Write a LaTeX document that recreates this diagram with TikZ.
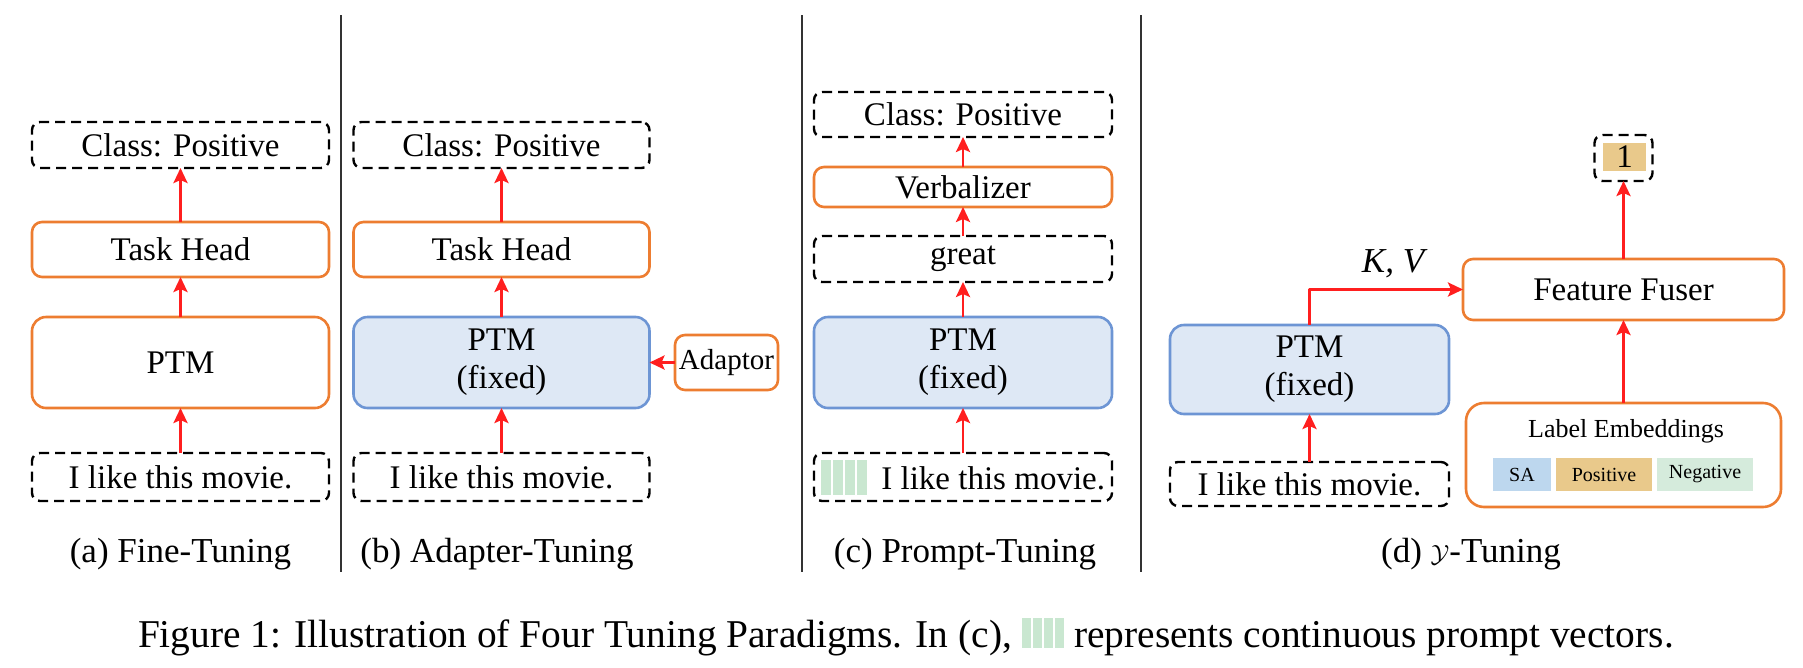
\documentclass[tikz,border=0pt]{standalone}
\usepackage{fontspec}
\setmainfont{Liberation Serif}
\usetikzlibrary{arrows.meta}
\definecolor{boxorange}{HTML}{ED7D31}
\definecolor{boxblue}{HTML}{6D95D4}
\definecolor{fillblue}{HTML}{DEE8F5}
\definecolor{arrred}{HTML}{FF1F1F}
\definecolor{promptgreen}{HTML}{C9E7D0}
\definecolor{cellsa}{HTML}{BDD7EE}
\definecolor{cellpos}{HTML}{E9C98B}
\definecolor{cellneg}{HTML}{D5EBDC}
\definecolor{sepgray}{HTML}{333333}
\newcommand{\myBody}{\fontsize{33}{39}\selectfont}
\newcommand{\myCapt}{\fontsize{35}{40}\selectfont}
\newcommand{\myFig}{\fontsize{39.4}{44}\selectfont}
\newcommand{\myCells}[3]{%
  \textcolor{promptgreen}{\rule[-#3]{#1}{#2}}\hspace{1.5pt}%
  \textcolor{promptgreen}{\rule[-#3]{#1}{#2}}\hspace{1.5pt}%
  \textcolor{promptgreen}{\rule[-#3]{#1}{#2}}\hspace{1.5pt}%
  \textcolor{promptgreen}{\rule[-#3]{#1}{#2}}}
\begin{document}
\begin{tikzpicture}[x=1pt,y=-1pt,line join=round,
  every node/.style={inner sep=0pt,outer sep=0pt},
  dbox/.style={draw=black,line width=2.4pt,dash pattern=on 10pt off 6pt,rounded corners=8pt,font=\myBody},
  obox/.style={draw=boxorange,line width=2.6pt,rounded corners=10pt,fill=white,font=\myBody},
  bbox/.style={draw=boxblue,fill=fillblue,line width=2.6pt,rounded corners=14pt,font=\myBody,align=center},
  arr/.style={draw=arrred,line width=2.8pt,-{Stealth[length=15pt,width=14pt,inset=3pt]}},
  capt/.style={font=\myCapt,anchor=base},
  sepline/.style={draw=sepgray,line width=2.5pt},
  cell/.style={minimum height=33pt,font=\fontsize{20}{24}\selectfont}
]
\useasboundingbox (0,0) rectangle (1803,667);

% separators
\coordinate (s1t) at (341,15);  \coordinate (s1b) at (341,572);
\coordinate (s2t) at (802,15);  \coordinate (s2b) at (802,572);
\coordinate (s3t) at (1141,15); \coordinate (s3b) at (1141,572);
\draw[sepline] (s1t) -- (s1b);
\draw[sepline] (s2t) -- (s2b);
\draw[sepline] (s3t) -- (s3b);

% (a) Fine-Tuning
\node[dbox,minimum width=297pt,minimum height=46pt] (ca) at (180.5,145) {Class: Positive};
\node[obox,minimum width=297pt,minimum height=55pt] (ta) at (180.5,249.5) {Task Head};
\node[obox,minimum width=297pt,minimum height=91pt,rounded corners=14pt] (pa) at (180.5,362.5) {PTM};
\node[dbox,minimum width=297pt,minimum height=48pt] (ia) at (180.5,477) {I like this movie.};
\draw[arr] (ia) -- (pa);
\draw[arr] (pa) -- (ta);
\draw[arr] (ta) -- (ca);
\node[capt] (capa) at (180.5,562) {(a) Fine-Tuning};

% (b) Adapter-Tuning
\node[dbox,minimum width=296pt,minimum height=46pt] (cb) at (501.5,145) {Class: Positive};
\node[obox,minimum width=296pt,minimum height=55pt] (tb) at (501.5,249.5) {Task Head};
\node[bbox,minimum width=296pt,minimum height=91pt] (pb) at (501.5,362.5) {PTM\\[-1pt](fixed)};
\node[dbox,minimum width=296pt,minimum height=48pt] (ib) at (501.5,477) {I like this movie.};
\node[obox,minimum width=103pt,minimum height=55pt,font=\fontsize{29}{34}\selectfont] (ad) at (726.5,362.5) {Adaptor};
\draw[arr] (ib) -- (pb);
\draw[arr] (pb) -- (tb);
\draw[arr] (tb) -- (cb);
\draw[arr] (ad) -- (pb);
\node[capt] (capb) at (497,562) {(b) Adapter-Tuning};

% (c) Prompt-Tuning
\node[dbox,minimum width=298pt,minimum height=45pt] (cc) at (963,114.5) {Class: Positive};
\node[obox,minimum width=298pt,minimum height=40pt] (vc) at (963,187) {Verbalizer};
\node[dbox,minimum width=298pt,minimum height=46pt] (gc) at (963,259) {great};
\node[bbox,minimum width=298pt,minimum height=91pt] (pc) at (963,362.5) {PTM\\[-1pt](fixed)};
\node[dbox,minimum width=298pt,minimum height=48pt] (ic) at (963,477) {\myCells{10.5pt}{35pt}{5pt}\hspace{14pt}I like this movie.};
\draw[arr] (ic) -- (pc);
\draw[arr] (pc) -- (gc);
\draw[arr] (gc) -- (vc);
\draw[arr] (vc) -- (cc);
\node[capt] (capc) at (965,562) {(c) Prompt-Tuning};

% (d) Y-Tuning
\node[bbox,minimum width=279pt,minimum height=89pt] (pd) at (1309.5,369.5) {PTM\\[-1pt](fixed)};
\node[dbox,minimum width=279pt,minimum height=44pt] (id) at (1309.5,484) {I like this movie.};
\node[obox,minimum width=321pt,minimum height=61pt] (ff) at (1623.5,289.5) {Feature Fuser};
\node[dbox,minimum width=58pt,minimum height=46pt] (one) at (1623.5,158) {};
\node[fill=cellpos,minimum width=43pt,minimum height=28pt,font=\myBody] (onev) at (1624.5,157) {1};
\node[obox,minimum width=315pt,minimum height=104pt,rounded corners=18pt] (le) at (1623.5,455) {};
\node[font=\fontsize{26}{30}\selectfont] (let) at (1626,431) {Label Embeddings};
\node[cell,fill=cellsa,minimum width=58pt] (csa) at (1522,474.5) {SA};
\node[cell,fill=cellpos,minimum width=96pt] (cpos) at (1604,474.5) {Positive};
\node[cell,fill=cellneg,minimum width=96pt] (cneg) at (1705,474.5) {Negative};
\draw[arr] (id) -- (pd);
\draw[arr] (pd.north) |- (ff.west);
\draw[arr] (le) -- (ff);
\draw[arr] (ff) -- (one);
\node[font=\fontsize{35}{40}\selectfont\itshape,anchor=base] (kv) at (1393,272) {K, V};
\node[capt] (capd) at (1471,562) {(d) $\mathcal{Y}$-Tuning};

% figure caption
\node[font=\myFig,anchor=base west] (fig) at (138,647) {Figure 1: Illustration of Four Tuning Paradigms. In (c), \myCells{9.5pt}{30pt}{1pt} represents continuous prompt vectors.};
\end{tikzpicture}
\end{document}
